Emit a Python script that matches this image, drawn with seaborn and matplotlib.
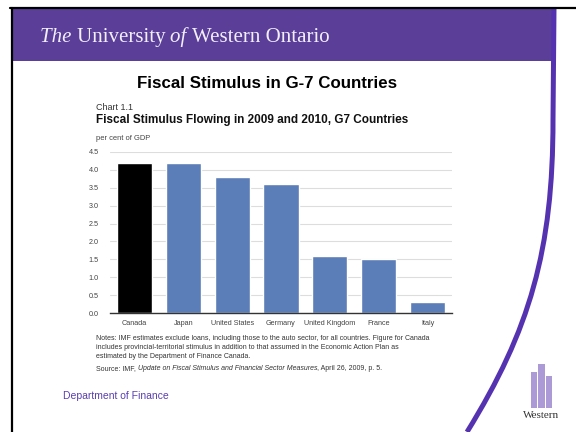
import matplotlib
matplotlib.use("Agg")
import matplotlib.pyplot as plt
import matplotlib.patches as mpatches
from matplotlib.path import Path
from matplotlib.lines import Line2D
import seaborn as sns

# chart data
countries = ["Canada", "Japan", "United States", "Germany", "United Kingdom", "France", "Italy"]
stimulus = [4.2, 4.2, 3.8, 3.6, 1.6, 1.5, 0.3]
bar_colors = ["#000000", "#5b7db8", "#5b7db8", "#5b7db8", "#5b7db8", "#5b7db8", "#5b7db8"]
y_ticks = [0.0, 0.5, 1.0, 1.5, 2.0, 2.5, 3.0, 3.5, 4.0, 4.5]

notes = [
    "Notes: IMF estimates exclude loans, including those to the auto sector, for all countries. Figure for Canada",
    "includes provincial-territorial stimulus in addition to that assumed in the Economic Action Plan as",
    "estimated by the Department of Finance Canada.",
]

sns.set_style("white")
plt.rcParams["font.family"] = ["Liberation Sans", "DejaVu Sans"]

W, H = 576, 432
PURPLE = "#5a3e98"
fig = plt.figure(figsize=(5.76, 4.32), dpi=100)
renderer = fig.canvas.get_renderer()


def fx(x):
    return x / W


def fy(y):
    return 1 - y / H


def runs(x, y, parts, **kw):
    # draw text pieces one after another (mixed italic / upright)
    for s, style in parts:
        t = fig.text(fx(x), fy(y), s, style=style, **kw)
        x += t.get_window_extent(renderer).width


# slide frame
fig.add_artist(mpatches.Rectangle((fx(12), fy(61)), fx(555) - fx(12), (61 - 8) / H,
                                  transform=fig.transFigure, color=PURPLE, lw=0))
fig.add_artist(Line2D([fx(10), fx(576)], [fy(8), fy(8)], color="black", lw=1.6,
                      transform=fig.transFigure))
fig.add_artist(Line2D([fx(12), fx(12)], [fy(8), fy(432)], color="black", lw=1.6,
                      transform=fig.transFigure))
curve = Path([(fx(554), fy(8)), (fx(553), fy(120)), (fx(553), fy(250)), (fx(530), fy(330)), (fx(467), fy(432))],
             [Path.MOVETO, Path.LINETO, Path.CURVE4, Path.CURVE4, Path.CURVE4])
fig.add_artist(mpatches.PathPatch(curve, fc="none", ec="#5533b0", lw=3.6, transform=fig.transFigure))

# header
runs(40, 42, [("The ", "italic"), ("University ", "normal"), ("of ", "italic"),
              ("Western Ontario", "normal")],
     family="Liberation Serif", size=15, color="#f2eefa", va="baseline")

fig.text(fx(267), fy(83), "Fiscal Stimulus in G-7 Countries", ha="center", va="center",
         size=12.2, weight="bold", color="black")

fig.text(fx(96), fy(108), "Chart 1.1", size=6.5, color="#333333", va="center")
fig.text(fx(96), fy(120), "Fiscal Stimulus Flowing in 2009 and 2010, G7 Countries", size=8.5,
         weight="bold", color="#111111", va="center")
fig.text(fx(96), fy(139), "per cent of GDP", size=5.4, color="#444444", va="center")

# bar chart
ax = fig.add_axes([fx(110), fy(313), fx(452) - fx(110), (313 - 152) / H])
sns.barplot(x=countries, y=stimulus, hue=countries, palette=bar_colors, legend=False,
            width=0.72, saturation=1, ax=ax)
ax.set_xlim(-0.5, 6.5)
ax.set_ylim(0, 4.5)
ax.set_yticks(y_ticks)
ax.set_yticklabels([f"{v:.1f}" for v in y_ticks])
ax.yaxis.grid(True, color="#dddddd", lw=0.8)
ax.set_axisbelow(True)
for side in ["left", "right", "top"]:
    ax.spines[side].set_visible(False)
ax.spines["bottom"].set_color("#333333")
ax.spines["bottom"].set_linewidth(1.0)
ax.tick_params(axis="both", length=0, labelsize=5.2, labelcolor="#444444")
ax.tick_params(axis="y", pad=8)
ax.tick_params(axis="x", pad=5)
ax.set_xlabel("")
ax.set_ylabel("")

for i, line in enumerate(notes):
    fig.text(fx(96), fy(339 + i * 8.5), line, size=5.0, color="#333333", va="center")
runs(96, 369, [("Source: IMF, ", "normal"),
               ("Update on Fiscal Stimulus and Financial Sector Measures", "italic"),
               (", April 26, 2009, p. 5.", "normal")],
     size=5.0, color="#333333", va="center")

fig.text(fx(63), fy(396), "Department of Finance", size=7.5, color="#5a3eb0", va="center")

# Western logo
for x0, y0, w, h in [(531, 372, 6, 36), (538, 364, 7, 44), (546, 376, 6, 32)]:
    fig.add_artist(mpatches.Rectangle((fx(x0), fy(y0 + h)), w / W, h / H, transform=fig.transFigure,
                                      color="#9d88cf", alpha=0.85, lw=0))
fig.text(fx(541), fy(416), "Western", family="Liberation Serif", size=8, color="#333333",
         ha="center", va="center")

fig.savefig("out.png", dpi=100)
